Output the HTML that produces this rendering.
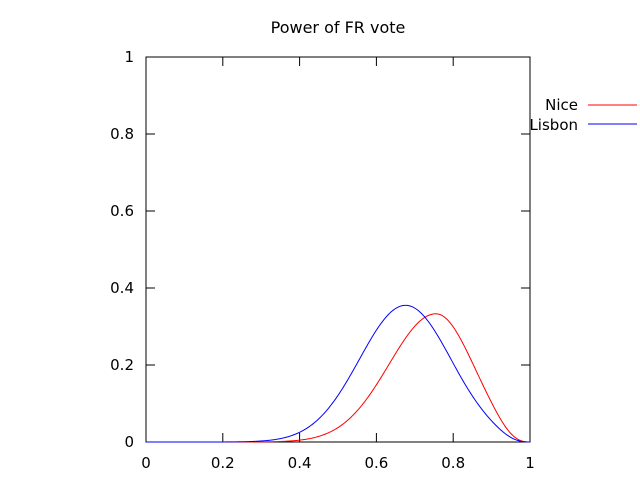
<!DOCTYPE html>
<html><head><meta charset="utf-8"><style>
body{margin:0;background:#fff;}
svg{display:block;font-family:"DejaVu Sans","Liberation Sans",sans-serif;}
</style></head><body>
<svg id="s" width="640" height="480" viewBox="0 0 640 480">
<rect width="640" height="480" fill="#fff"/>
<text x="338" y="33" font-size="16" text-anchor="middle">Power of FR vote</text>
<rect x="146" y="57" width="384" height="385" fill="none" stroke="#000" stroke-width="1"/>
<g id="ticks" stroke="#000" stroke-width="1"></g>
<g id="labels" font-size="15"></g>
<text x="578" y="110" font-size="15" text-anchor="end">Nice</text>
<line x1="588" y1="105" x2="637" y2="105" stroke="#f00"/>
<text x="578" y="130" font-size="15" text-anchor="end">Lisbon</text>
<line x1="588" y1="124" x2="637" y2="124" stroke="#00f"/>
<path id="red" fill="none" stroke="#f00" stroke-width="1"/>
<path id="blue" fill="none" stroke="#00f" stroke-width="1"/>
</svg>
<script>
var X0=146,W=384,Y0=442,H=385;
var t=document.getElementById("ticks"),l=document.getElementById("labels");
var labs=["0","0.2","0.4","0.6","0.8","1"];
for(var i=0;i<=5;i++){
 var x=X0+W*i/5,y=Y0-H*i/5;
 t.innerHTML+='<line x1="'+x+'" y1="442" x2="'+x+'" y2="433"/><line x1="'+x+'" y1="57" x2="'+x+'" y2="66"/>';
 t.innerHTML+='<line x1="146" y1="'+y+'" x2="155" y2="'+y+'"/><line x1="530" y1="'+y+'" x2="521" y2="'+y+'"/>';
 l.innerHTML+='<text x="'+x+'" y="468" text-anchor="middle">'+labs[i]+'</text>';
 l.innerHTML+='<text x="134" y="'+(y+5)+'" text-anchor="end">'+labs[i]+'</text>';
}
function curve(m,pk,sl,sr){
 var d="";
 for(var k=0;k<=400;k++){
  var p=k/400,s=p<m?sl:sr,dd=p-m,u=(1-p)/0.06;
  var f=pk*Math.exp(-dd*dd/(2*s*s))*(1-Math.exp(-u*u));
  d+=(k?"L":"M")+(X0+W*p).toFixed(2)+","+(Y0-H*f).toFixed(2);
 }
 return d;
}
document.getElementById("blue").setAttribute("d",curve(0.676,0.355,0.12,0.118));
document.getElementById("red").setAttribute("d",curve(0.755,0.333,0.122,0.097));
</script>
</body></html>
